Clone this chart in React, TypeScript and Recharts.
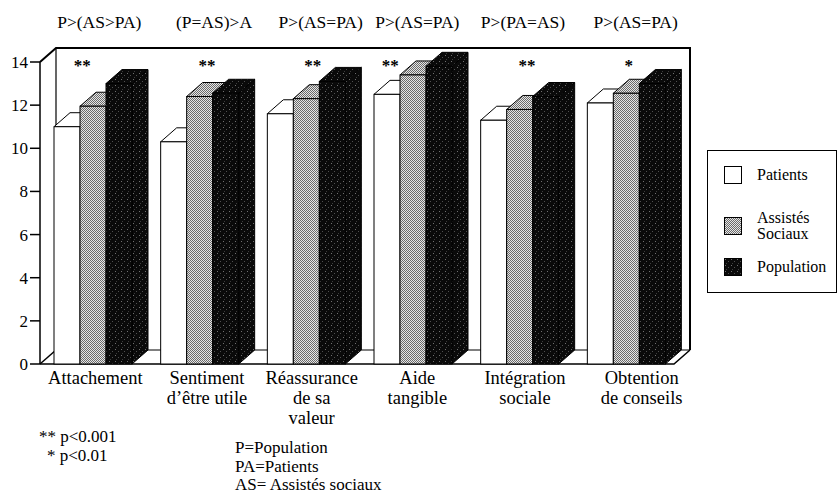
import React from 'react';
import { BarChart, Bar, XAxis, YAxis, ReferenceArea } from 'recharts';

const categories = [
  'Attachement',
  'Sentiment\nd’être utile',
  'Réassurance\nde sa\nvaleur',
  'Aide\ntangible',
  'Intégration\nsociale',
  'Obtention\nde conseils',
];
const patients = [11.0, 10.3, 11.6, 12.5, 11.3, 12.1];
const assistes = [11.95, 12.4, 12.3, 13.4, 11.8, 12.55];
const population = [13.0, 12.55, 13.1, 13.8, 12.4, 13.0];
const comparisons = ['P>(AS>PA)', '(P=AS)>A', 'P>(AS=PA)', 'P>(AS=PA)', 'P>(PA=AS)', 'P>(AS=PA)'];
const significance = ['**', '**', '**', '**', '**', '*'];
const yTicks = [0, 2, 4, 6, 8, 10, 12, 14];
const seriesNames = ['Patients', 'Assistés\nSociaux', 'Population'];
const pValueNotes = ['** p<0.001', '* p<0.01'];
const abbreviations = ['P=Population', 'PA=Patients', 'AS= Assistés sociaux'];

const data = categories.map((name, i) => ({
  name,
  patients: patients[i],
  assistes: assistes[i],
  population: population[i],
}));

// layout nudges (pixels) for the hand-placed labels of the original figure
const bottomNudge = [2, 7, 5, 4, 5, 15];
const topNudge = [6, 14, 14, 4, 3, 9];
const starNudge = [-11, 7, 6, -23, 7, 2];

const FONT = "'Liberation Serif', 'Times New Roman', serif";
const DX = 16;
const DY = 14;

const fills = [
  { face: '#ffffff', top: '#ffffff', side: '#ffffff' },
  { face: 'url(#pGray)', top: 'url(#pGray)', side: 'url(#pGray)' },
  { face: 'url(#pDark)', top: 'url(#pDark)', side: 'url(#pDark)' },
];

const make3D = (f: { face: string; top: string; side: string }) => (p: any) => {
  const { x, y, width: w, height: h } = p;
  if (h == null || w == null) return <g />;
  return (
    <g>
      <path
        d={`M${x + w},${y} L${x + w + DX},${y - DY} L${x + w + DX},${y + h - DY} L${x + w},${y + h} Z`}
        fill={f.side}
        stroke="#000"
        strokeWidth={1}
      />
      <path
        d={`M${x},${y} L${x + DX},${y - DY} L${x + w + DX},${y - DY} L${x + w},${y} Z`}
        fill={f.top}
        stroke="#000"
        strokeWidth={1}
      />
      <rect x={x} y={y} width={w} height={h} fill={f.face} stroke="#000" strokeWidth={1} />
    </g>
  );
};

const WallShape = (props: any) => {
  const { x, y, width, height } = props;
  const bx0 = x + DX;
  const by0 = y - DY;
  const bx1 = x + width + 10;
  const by1 = y + height - DY;
  const fx1 = bx1 - DX;
  const fy = y + height;
  return (
    <g>
      <path
        d={`M${x},${y} L${bx0},${by0} L${bx1},${by0} L${bx1},${by1} L${fx1},${fy} L${x},${fy} Z`}
        fill="#fff"
        stroke="none"
      />
      <path d={`M${x},${y} L${bx0},${by0} L${bx1},${by0} L${bx1},${by1}`} fill="none" stroke="#000" strokeWidth={2} />
      <line x1={bx0} y1={by0} x2={bx0} y2={by1} stroke="#000" strokeWidth={1.2} />
      <line x1={bx0} y1={by1} x2={bx1} y2={by1} stroke="#000" strokeWidth={1.2} />
      <line x1={x} y1={fy} x2={bx0} y2={by1} stroke="#000" strokeWidth={1.5} />
      <path d={`M${x},${fy} L${fx1},${fy} L${bx1},${by1}`} fill="none" stroke="#000" strokeWidth={1.5} />
    </g>
  );
};

const BottomTick = (props: any) => {
  const { x, y, payload } = props;
  const i = payload.index;
  const lines = String(categories[i] ?? payload.value).split('\n');
  return (
    <g>
      {lines.map((l, k) => (
        <text
          key={k}
          x={x + (bottomNudge[i] ?? 0)}
          y={y + 20 + k * 20}
          textAnchor="middle"
          fontFamily={FONT}
          fontSize={18.5}
          fill="#000"
        >
          {l}
        </text>
      ))}
    </g>
  );
};

const TopTick = (props: any) => {
  const { x, y, payload } = props;
  const i = payload.index;
  return (
    <g>
      <text x={x + (topNudge[i] ?? 0)} y={y - 34} textAnchor="middle" fontFamily={FONT} fontSize={17.5} fill="#000">
        {comparisons[i]}
      </text>
      <text
        x={x + (starNudge[i] ?? 0)}
        y={y + 9}
        textAnchor="middle"
        fontFamily={FONT}
        fontSize={17}
        fontWeight="bold"
        fill="#000"
      >
        {significance[i]}
      </text>
    </g>
  );
};

const Swatch = ({ fill }: { fill: string }) => (
  <svg width={18} height={18} style={{ display: 'block' }}>
    <rect x={0.5} y={0.5} width={17} height={17} fill={fill} stroke="#000" strokeWidth={1} />
  </svg>
);

export default function App() {
  return (
    <div style={{ position: 'absolute', left: 0, top: 0, width: 839, height: 496, background: '#fff', fontFamily: FONT }}>
      <BarChart
        width={839}
        height={496}
        data={data}
        margin={{ top: 12, right: 159, bottom: 72, left: 0 }}
        barGap={0}
        barSize={26}
      >
        <defs>
          <pattern id="pGray" width="2" height="2" patternUnits="userSpaceOnUse">
            <rect width="2" height="2" fill="#e6e6e6" />
            <rect x="0" y="0" width="1" height="1" fill="#6a6a6a" />
            <rect x="1" y="1" width="1" height="1" fill="#6a6a6a" />
          </pattern>
          <pattern id="pDark" width="6" height="6" patternUnits="userSpaceOnUse">
            <rect width="6" height="6" fill="#0a0a0a" />
            <rect x="1" y="1" width="1" height="1" fill="#707070" />
            <rect x="4" y="3" width="1" height="1" fill="#505050" />
            <rect x="2" y="5" width="1" height="1" fill="#3c3c3c" />
          </pattern>
        </defs>
        <ReferenceArea y1={0} y2={14} shape={WallShape} ifOverflow="visible" />
        <XAxis
          dataKey="name"
          height={60}
          interval={0}
          axisLine={false}
          tickLine={false}
          tickSize={0}
          tickMargin={0}
          tick={<BottomTick />}
        />
        <XAxis
          xAxisId="top"
          orientation="top"
          dataKey="name"
          height={50}
          interval={0}
          axisLine={false}
          tickLine={false}
          tickSize={0}
          tickMargin={0}
          tick={<TopTick />}
        />
        <YAxis
          width={40}
          domain={[0, 14]}
          ticks={yTicks}
          interval={0}
          tickSize={10}
          tickMargin={2}
          axisLine={{ stroke: '#000', strokeWidth: 1.5 }}
          tickLine={{ stroke: '#000', strokeWidth: 1.5 }}
          tick={{ fontFamily: FONT, fontSize: 17, fill: '#000' }}
        />
        <Bar dataKey="patients" name="Patients" fill="#fff" shape={make3D(fills[0])} isAnimationActive={false} />
        <Bar dataKey="assistes" name="Assistés Sociaux" fill="#aaa" shape={make3D(fills[1])} isAnimationActive={false} />
        <Bar dataKey="population" name="Population" fill="#111" shape={make3D(fills[2])} isAnimationActive={false} />
      </BarChart>

      {/* Legend */}
      <div
        style={{
          position: 'absolute',
          left: 707,
          top: 150,
          width: 130,
          height: 143,
          border: '1px solid #000',
          boxSizing: 'border-box',
        }}
      >
        {seriesNames.map((s, i) => {
          const tops = [15, 59, 107];
          const lines = s.split('\n');
          return (
            <div
              key={s}
              style={{ position: 'absolute', left: 16, top: tops[i], display: 'flex', alignItems: 'center' }}
            >
              <Swatch fill={fills[i].face} />
              <div style={{ marginLeft: 15, fontSize: 16, lineHeight: '16px', color: '#000' }}>
                {lines.map((l) => (
                  <div key={l}>{l}</div>
                ))}
              </div>
            </div>
          );
        })}
      </div>

      {/* Notes */}
      <div style={{ position: 'absolute', left: 39, top: 427, fontSize: 17, lineHeight: '19px' }}>
        {pValueNotes.map((n) => (
          <div key={n} style={{ whiteSpace: 'pre', paddingLeft: n.startsWith('**') ? 0 : 8 }}>
            {n}
          </div>
        ))}
      </div>
      <div style={{ position: 'absolute', left: 235, top: 439, fontSize: 17, lineHeight: '18.5px' }}>
        {abbreviations.map((n) => (
          <div key={n} style={{ whiteSpace: 'pre' }}>
            {n}
          </div>
        ))}
      </div>
    </div>
  );
}
